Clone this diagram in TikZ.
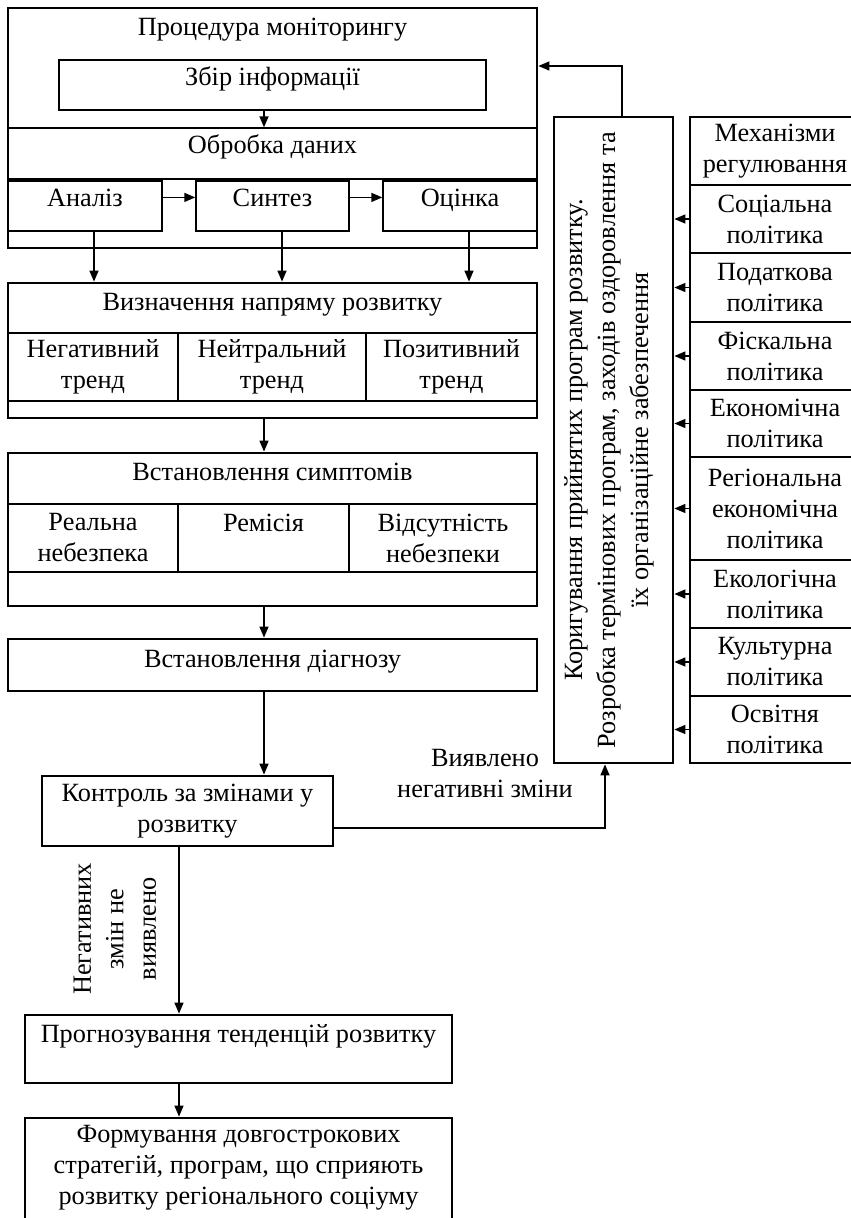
\documentclass[tikz,border=0pt]{standalone}
\usepackage{fontspec}
\setmainfont{Liberation Serif}
\usetikzlibrary{arrows.meta}
\tikzset{
  every node/.style={font=\fontsize{26.3}{31}\selectfont},
  bigbox/.style={draw, line width=2.8pt, inner sep=0pt, align=center},
  thinbox/.style={draw, line width=1.4pt, inner sep=0pt, align=center},
  lbl/.style={inner sep=0pt, align=center},
  arr/.style={line width=1.4pt, -{Triangle[length=11pt,width=9pt]}}
}

\begin{document}
\begin{tikzpicture}[x=1pt,y=-1pt]
\useasboundingbox (0,0) rectangle (851,1218);
\clip (0,0) rectangle (851,1218);
\coordinate (spine) at (264,0);

% monitoring block
\node[bigbox,minimum width=529pt,minimum height=240pt] (mon) at (272.5,128) {};
\node[lbl,anchor=base] (montxt) at (272.5,35) {Процедура моніторингу};
\node[thinbox,minimum width=427pt,minimum height=50pt] (zbir) at (272.5,85) {};
\node[lbl,anchor=base] (zbirtxt) at (272.5,85) {Збір інформації};
\node[thinbox,minimum width=529pt,minimum height=51pt] (obr) at (272.5,153.5) {};
\node[lbl,anchor=base] (obrtxt) at (272.5,153) {Обробка даних};
\node[thinbox,minimum width=154pt,minimum height=50pt] (anal) at (85,206) {};
\node[lbl,anchor=base] (analtxt) at (85,206) {Аналіз};
\node[thinbox,minimum width=153pt,minimum height=50pt] (synt) at (272.5,206) {};
\node[lbl,anchor=base] (synttxt) at (272.5,206) {Синтез};
\node[thinbox,minimum width=154pt,minimum height=50pt] (ocin) at (460,206) {};
\node[lbl,anchor=base] (ocintxt) at (460,206) {Оцінка};
\draw[arr] (zbir.south -| spine) -- (obr.north -| spine);
\draw[arr] (anal.east |- analtxt.center) -- (synt.west |- analtxt.center);
\draw[arr] (synt.east |- synttxt.center) -- (ocin.west |- synttxt.center);

% direction
\node[bigbox,minimum width=529pt,minimum height=135pt] (vyz) at (272.5,350.5) {};
\node[lbl,anchor=base] (vyztxt) at (272.5,310) {Визначення напряму розвитку};
\node[thinbox,minimum width=170pt,minimum height=68pt] (neg) at (93,367) {Негативний\\тренд};
\node[thinbox,minimum width=188pt,minimum height=68pt] (neyt) at (272,367) {Нейтральний\\тренд};
\node[thinbox,minimum width=171pt,minimum height=68pt] (poz) at (451.5,367) {Позитивний\\тренд};
\draw[arr] ([xshift=9pt]anal.south) -- ([xshift=9pt]anal.south |- vyz.north);
\draw[arr] ([xshift=9.5pt]synt.south) -- ([xshift=9.5pt]synt.south |- vyz.north);
\draw[arr] ([xshift=9pt]ocin.south) -- ([xshift=9pt]ocin.south |- vyz.north);

% symptoms
\node[bigbox,minimum width=529pt,minimum height=153pt] (sym) at (272.5,529.5) {};
\node[lbl,anchor=base] (symtxt) at (272.5,480) {Встановлення симптомів};
\node[thinbox,minimum width=170pt,minimum height=68pt] (real) at (93,538) {Реальна\\небезпека};
\node[thinbox,minimum width=171pt,minimum height=68pt] (rem) at (263.5,538) {Ремісія\\\phantom{небезпека}};
\node[thinbox,minimum width=188pt,minimum height=68pt] (vids) at (443,538) {Відсутність\\небезпеки};
\draw[arr] (vyz.south -| spine) -- (sym.north -| spine);

% diagnosis and control
\node[bigbox,minimum width=529pt,minimum height=52pt] (diag) at (272.5,665) {};
\node[lbl,anchor=base] (diagtxt) at (272.5,667) {Встановлення діагнозу};
\node[bigbox,minimum width=291pt,minimum height=70pt] (kon) at (187.5,811) {Контроль за змінами у\\розвитку};
\draw[arr] (sym.south -| spine) -- (diag.north -| spine);
\draw[arr] (diag.south -| spine) -- (kon.north -| spine);
\node[lbl,font=\fontsize{26.3}{32.5}\selectfont,rotate=90] (nezm) at (115,929) {Негативних\\змін не\\виявлено};

% forecast
\node[bigbox,minimum width=427pt,minimum height=68pt] (prog) at (238.5,1049) {};
\node[lbl,anchor=base] (progtxt) at (238.5,1042) {Прогнозування тенденцій розвитку};
\node[bigbox,minimum width=427pt,minimum height=122pt] (form) at (238.5,1179) {};
\node[lbl] (formtxt) at (238.5,1168) {Формування довгострокових\\стратегій, програм, що сприяють\\розвитку регіонального соціуму};
\draw[arr] ([xshift=-8.5pt]kon.south) -- ([xshift=-8.5pt]kon.south |- prog.north);
\draw[arr] ([xshift=-59.5pt]prog.south) -- ([xshift=-59.5pt]form.north);

% correction
\node[bigbox,minimum width=119pt,minimum height=646pt] (kor) at (613.5,440) {};
\node[lbl,font=\fontsize{26.3}{33}\selectfont,rotate=90] (kortxt) at (609,440) {Коригування прийнятих програм розвитку.\\Розробка термінових програм, заходів оздоровлення та\\їх організаційне забезпечення};
\draw[arr] ([xshift=8.5pt]kor.north) |- ([yshift=62pt]mon.east);
\draw[arr] ([yshift=-17pt]kon.east) -| ([xshift=-8.5pt]kor.south);
\node[lbl] (vyav) at (485,774) {Виявлено\\негативні зміни};

% regulation
\node[thinbox,minimum width=170pt,minimum height=68pt] (soc) at (775,219) {Соціальна\\політика};
\node[thinbox,minimum width=170pt,minimum height=69pt] (pod) at (775,287.5) {Податкова\\політика};
\node[thinbox,minimum width=170pt,minimum height=68pt] (fisk) at (775,356) {Фіскальна\\політика};
\node[thinbox,minimum width=170pt,minimum height=67pt] (ekon) at (775,423.5) {Економічна\\політика};
\node[thinbox,minimum width=170pt,minimum height=103pt] (reg) at (775,508.5) {Регіональна\\економічна\\політика};
\node[thinbox,minimum width=170pt,minimum height=68pt] (ekol) at (775,594) {Екологічна\\політика};
\node[thinbox,minimum width=170pt,minimum height=68pt] (kult) at (775,662) {Культурна\\політика};
\node[thinbox,minimum width=170pt,minimum height=67pt] (osv) at (775,729.5) {Освітня\\політика};
\node[bigbox,minimum width=170pt,minimum height=68pt] (mech) at (775,151) {Механізми\\регулювання};
\draw[arr] (soc.west) -- (soc.west -| kor.east);
\draw[arr] (pod.west) -- (pod.west -| kor.east);
\draw[arr] (fisk.west) -- (fisk.west -| kor.east);
\draw[arr] (ekon.west) -- (ekon.west -| kor.east);
\draw[arr] (reg.west) -- (reg.west -| kor.east);
\draw[arr] (ekol.west) -- (ekol.west -| kor.east);
\draw[arr] (kult.west) -- (kult.west -| kor.east);
\draw[arr] (osv.west) -- (osv.west -| kor.east);
\end{tikzpicture}
\end{document}
